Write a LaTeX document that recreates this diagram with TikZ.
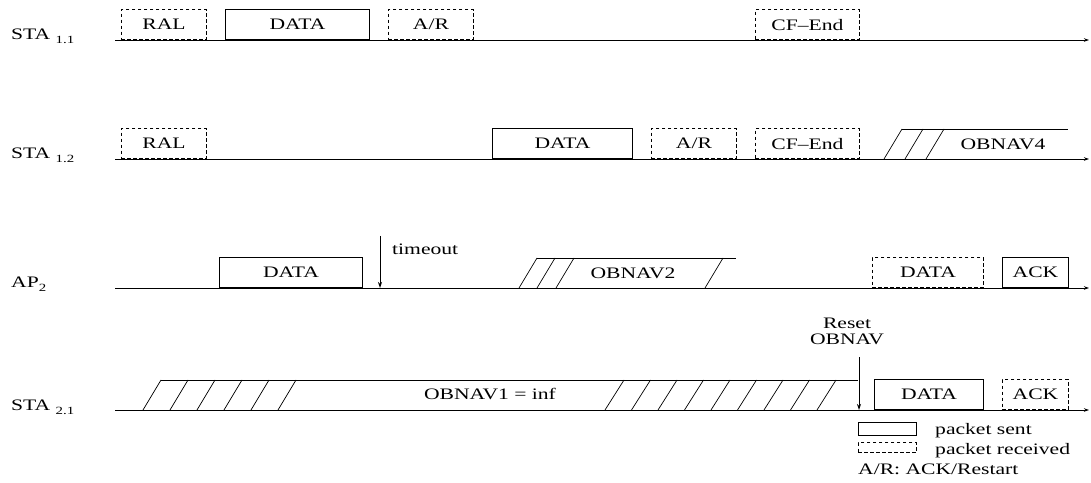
\documentclass[tikz,border=0pt]{standalone}
\usepackage{fontspec}
\setmainfont[FakeStretch=1.35]{Liberation Serif}
\usetikzlibrary{arrows.meta}
\tikzset{
  sent/.style={draw, line width=0.9pt, inner sep=0pt, anchor=south west, minimum height=30pt},
  recv/.style={sent, dash pattern=on 3.5pt off 2.5pt},
  timeline/.style={line width=0.9pt, -{Stealth[length=5pt,width=3.5pt]}},
  evarrow/.style={line width=0.9pt, -{Stealth[length=6pt,width=4pt]}},
  hatch/.style={line width=0.7pt},
  lbl/.style={anchor=base west, inner sep=0pt},
  txt/.style={inner sep=0pt},
}
\newcommand{\sub}[1]{\raisebox{-4pt}{\fontsize{11}{13}\selectfont #1}}
\begin{document}
\begin{tikzpicture}[x=1pt,y=1pt,font=\fontsize{16}{19}\selectfont]
\useasboundingbox (0,0) rectangle (1091,482);
% ---------- labels
\node[lbl] (l1) at (11,442) {STA \sub{1.1}};
\node[lbl] (l2) at (11,323) {STA \sub{1.2}};
\node[lbl] (l3) at (11,194) {AP\sub{2}};
\node[lbl] (l4) at (11,72) {STA \sub{2.1}};
% ---------- timelines
\coordinate (s1) at (115,442); \coordinate (e1) at (1089,442);
\coordinate (s2) at (115,323); \coordinate (e2) at (1089,323);
\coordinate (s3) at (115,194); \coordinate (e3) at (1089,194);
\coordinate (s4) at (115,72);  \coordinate (e4) at (1089,72);
\draw[timeline] (s1) -- (e1);
\draw[timeline] (s2) -- (e2);
\draw[timeline] (s3) -- (e3);
\draw[timeline] (s4) -- (e4);
% ---------- STA 1.1
\node[recv, minimum width=85pt] (ral1) at (121,442) {RAL};
\node[sent, minimum width=144pt] (data1) at (225,442) {DATA};
\node[recv, minimum width=85pt] (ar1) at (388,442) {A/R};
\node[recv, minimum width=104pt] (cf1) at (755,442) {CF--End};
% ---------- STA 1.2
\node[recv, minimum width=85pt] (ral2) at (121,323) {RAL};
\node[sent, minimum width=140pt] (data2) at (492,323) {DATA};
\node[recv, minimum width=85pt] (ar2) at (651,323) {A/R};
\node[recv, minimum width=104pt] (cf2) at (755,323) {CF--End};
\foreach \b in {884,905,926} \draw[hatch] (\b,323) -- ++(18,30);
\draw[hatch] (902,353) -- (1068,353);
\node[txt] (ob4) at (1003,338) {OBNAV4};
% ---------- AP2
\node[sent, minimum width=143pt] (data3) at (219,194) {DATA};
\coordinate (tot) at (380,246); \coordinate (tob) at (380,194);
\draw[evarrow] (tot) -- (tob);
\node[lbl] (tout) at (392,227) {timeout};
\foreach \b in {519,537,556,705} \draw[hatch] (\b,194) -- ++(18,30);
\draw[hatch] (537,224) -- (736,224);
\node[txt] (ob2) at (633,209) {OBNAV2};
\node[recv, minimum width=111pt] (data3r) at (872,194) {DATA};
\node[sent, minimum width=66pt] (ack3) at (1002,194) {ACK};
% ---------- STA 2.1
\foreach \b in {143,170,197,224,251,278} \draw[hatch] (\b,72) -- ++(18,30);
\foreach \b in {605,631.5,658,684.5,711,737.5,764,790.5,817} \draw[hatch] (\b,72) -- ++(19,30);
\draw[hatch] (161,102) -- (858,102);
\node[txt] (ob1) at (490,88) {OBNAV1 = inf};
\coordinate (rst) at (859,125); \coordinate (rsb) at (859,72);
\draw[evarrow] (rst) -- (rsb);
\node[txt, align=center, anchor=base] (reset) at (847,138) {Reset\\[-3pt]OBNAV};
\node[sent, minimum width=109pt] (data4) at (874,72) {DATA};
\node[recv, minimum width=66pt] (ack4) at (1002,72) {ACK};
% ---------- legend
\node[sent, minimum width=58pt, minimum height=13pt] (lgs) at (858,46) {};
\node[recv, minimum width=58pt, minimum height=10pt] (lgr) at (858,29) {};
\node[lbl] (lgst) at (935,48) {packet sent};
\node[lbl] (lgrt) at (935,28) {packet received};
\node[lbl] (lgar) at (858,8) {A/R: ACK/Restart};
\end{tikzpicture}
\end{document}
